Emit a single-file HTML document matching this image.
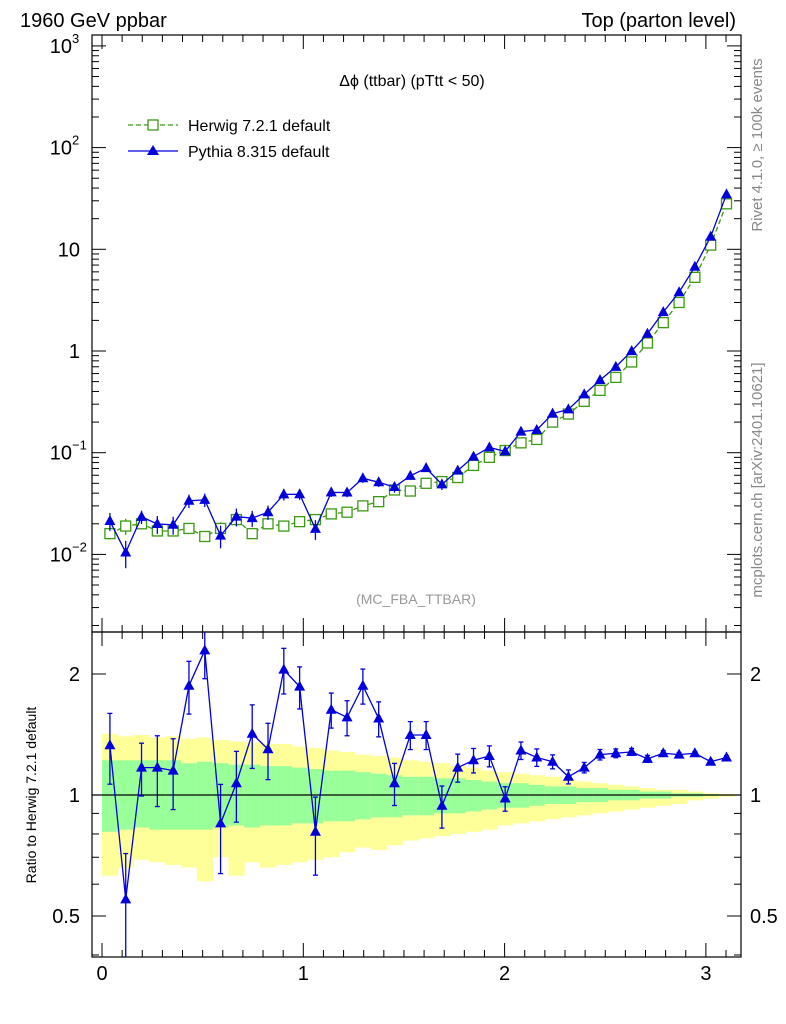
<!DOCTYPE html>
<html><head><meta charset="utf-8">
<style>
body{margin:0;background:#fff;}
svg{display:block;font-family:"Liberation Sans",sans-serif;}
</style></head>
<body>
<svg id="c" width="786" height="1024" viewBox="0 0 786 1024" xmlns="http://www.w3.org/2000/svg">
<text x="20" y="27" font-size="20">1960 GeV ppbar</text>
<text x="736" y="27" font-size="20" text-anchor="end">Top (parton level)</text>
<text x="412" y="86" font-size="16" text-anchor="middle">Δϕ (ttbar) (pTtt &lt; 50)</text>
<text x="416" y="604" font-size="14" fill="#999" text-anchor="middle">(MC_FBA_TTBAR)</text>
<text transform="translate(762,145) rotate(-90)" font-size="15" fill="#888" text-anchor="middle">Rivet 4.1.0, ≥ 100k events</text>
<text transform="translate(762,480) rotate(-90)" font-size="15" fill="#888" text-anchor="middle">mcplots.cern.ch [arXiv:2401.10621]</text>
<text transform="translate(36,795) rotate(-90)" font-size="14" text-anchor="middle">Ratio to Herwig 7.2.1 default</text>
<g id="bands"></g>
<g id="axes"></g>
<g id="series"></g>
<g>
<line x1="128" y1="125" x2="178" y2="125" stroke="#3a9a10" stroke-width="1.3" stroke-dasharray="5,3"/>
<rect x="148" y="120" width="10" height="10" fill="#fff" stroke="#3a9a10" stroke-width="1.3"/>
<text x="188" y="131" font-size="16">Herwig 7.2.1 default</text>
<line x1="128" y1="151" x2="178" y2="151" stroke="#0000dd" stroke-width="1.3"/>
<polygon points="153,145 159,155 147,155" fill="#0000dd"/>
<text x="188" y="157" font-size="16">Pythia 8.315 default</text>
</g>
</svg>
<script>
const herwig=[0.016,0.019,0.02,0.017,0.017,0.018,0.015,0.018,0.022,0.016,0.02,0.019,0.021,0.022,0.025,0.026,0.03,0.033,0.043,0.042,0.05,0.052,0.057,0.075,0.09,0.105,0.125,0.135,0.2,0.24,0.32,0.41,0.55,0.78,1.2,1.9,3.0,5.3,11,28];
const ratio=[1.33,0.55,1.17,1.17,1.15,1.87,2.29,0.85,1.07,1.42,1.3,2.05,1.86,0.81,1.63,1.56,1.87,1.55,1.07,1.41,1.41,0.94,1.17,1.22,1.25,0.98,1.29,1.24,1.21,1.11,1.17,1.26,1.27,1.28,1.23,1.27,1.26,1.27,1.21,1.24];
const relErr=[0.2,0.3,0.15,0.2,0.2,0.15,0.15,0.25,0.2,0.18,0.16,0.13,0.12,0.22,0.1,0.1,0.1,0.1,0.12,0.08,0.08,0.12,0.08,0.07,0.06,0.07,0.05,0.05,0.04,0.04,0.03,0.03,0.025,0.02,0.02,0.015,0.012,0.01,0.01,0.01];
const greenUp=[1.22,1.22,1.22,1.22,1.22,1.2,1.21,1.2,1.19,1.19,1.18,1.18,1.17,1.16,1.15,1.15,1.14,1.13,1.12,1.11,1.11,1.1,1.1,1.09,1.08,1.07,1.07,1.06,1.05,1.05,1.04,1.04,1.03,1.03,1.02,1.02,1.01,1.01,1.005,1.003];
const greenDn=[0.81,0.82,0.83,0.82,0.82,0.82,0.82,0.83,0.84,0.83,0.84,0.84,0.85,0.85,0.86,0.86,0.87,0.88,0.88,0.89,0.89,0.9,0.9,0.91,0.92,0.93,0.93,0.94,0.95,0.95,0.96,0.96,0.97,0.97,0.98,0.98,0.99,0.99,0.995,0.997];
const yelUp=[1.42,1.4,1.41,1.39,1.4,1.38,1.39,1.37,1.36,1.35,1.34,1.34,1.32,1.31,1.29,1.28,1.26,1.25,1.24,1.22,1.21,1.2,1.18,1.17,1.15,1.14,1.13,1.12,1.11,1.09,1.08,1.07,1.06,1.05,1.04,1.03,1.03,1.02,1.01,1.005];
const yelDn=[0.63,0.66,0.69,0.68,0.67,0.66,0.61,0.7,0.63,0.68,0.66,0.67,0.68,0.69,0.7,0.72,0.74,0.73,0.75,0.77,0.78,0.79,0.8,0.81,0.82,0.84,0.85,0.86,0.87,0.88,0.89,0.9,0.91,0.92,0.93,0.94,0.95,0.97,0.98,0.99];
const xTicks=[0,1,2,3];
const NS="http://www.w3.org/2000/svg";
const L=92,R=741,T=35,M=632,B=957;
const bw=Math.PI/40;
function X(v){return 102+v*201.3;}
function Y(v){return 351-Math.log10(v)*101.7;}
function YR(v){return 795-Math.log10(v)*402;}
function el(tag,a,p){const e=document.createElementNS(NS,tag);for(const k in a)e.setAttribute(k,a[k]);p.appendChild(e);return e;}
const bands=document.getElementById('bands'),ax=document.getElementById('axes'),se=document.getElementById('series');
const cl=s=>Math.max(M,Math.min(B,s));
for(let i=0;i<40;i++){
 const x0=X(i*bw),x1=X((i+1)*bw);
 let r=el('rect',{x:x0,y:YR(yelUp[i]),width:x1-x0+0.5,height:YR(yelDn[i])-YR(yelUp[i]),fill:'#ffff99'},bands);
 
 r=el('rect',{x:x0,y:YR(greenUp[i]),width:x1-x0+0.5,height:YR(greenDn[i])-YR(greenUp[i]),fill:'#99ff99'},bands);
 
}
el('rect',{x:L,y:T,width:R-L,height:M-T,fill:'none',stroke:'#000','stroke-width':1.2},ax);
el('rect',{x:L,y:M,width:R-L,height:B-M,fill:'none',stroke:'#000','stroke-width':1.2},ax);
el('line',{x1:L,y1:YR(1),x2:R,y2:YR(1),stroke:'#000','stroke-width':1.2},ax);
for(let d=-3;d<=3;d++){for(let m=1;m<10;m++){const v=m*Math.pow(10,d);const y=Y(v);if(y<T||y>M)continue;const len=m==1?14:7;
 el('line',{x1:L,y1:y,x2:L+len,y2:y,stroke:'#000'},ax);el('line',{x1:R,y1:y,x2:R-len,y2:y,stroke:'#000'},ax);}}
const ylab=[[3,'10','3'],[2,'10','2'],[1,'10',''],[0,'1',''],[-1,'10','−1'],[-2,'10','−2']];
ylab.forEach(a=>{const y=Y(Math.pow(10,a[0]));const t=el('text',{x:a[2]?72:80,y:y+7,'font-size':20,'text-anchor':'end'},ax);t.textContent=a[1];
 
 if(a[2]){const s=el('text',{x:72,y:y-3,'font-size':13},ax);s.textContent=a[2];}});
for(const v of [0.4,0.5,0.6,0.7,0.8,0.9,1,2]){const y=YR(v);const len=(v==1||v==2||v==0.5)?14:7;
 el('line',{x1:L,y1:y,x2:L+len,y2:y,stroke:'#000'},ax);el('line',{x1:R,y1:y,x2:R-len,y2:y,stroke:'#000'},ax);}
[[2,'2'],[1,'1'],[0.5,'0.5']].forEach(a=>{const y=YR(a[0]);
 let t=el('text',{x:80,y:y+7,'font-size':20,'text-anchor':'end'},ax);t.textContent=a[1];
 t=el('text',{x:750,y:y+7,'font-size':20},ax);t.textContent=a[1];});
for(let v=0;v<=3.15;v+=0.1){const x=X(v);if(x>R)break;const maj=Math.abs(v-Math.round(v))<1e-6;const len=maj?14:7;
 for(const [y0,dir] of [[T,1],[M,-1],[M,1],[B,-1]]) el('line',{x1:x,y1:y0,x2:x,y2:y0+dir*len,stroke:'#000'},ax);}
xTicks.forEach(v=>{const t=el('text',{x:X(v),y:980,'font-size':20,'text-anchor':'middle'},ax);t.textContent=v;
 });
const cx=i=>X((i+0.5)*bw);
const pyth=herwig.map((h,i)=>h*ratio[i]);
let hp=el('polyline',{points:herwig.map((v,i)=>cx(i)+','+Y(v)).join(' '),fill:'none',stroke:'#3a9a10','stroke-width':1.3,'stroke-dasharray':'5,3'},se);

herwig.forEach((v,i)=>{const e=v*relErr[i]*0.6;el('line',{x1:cx(i),y1:Y(v+e),x2:cx(i),y2:Y(v-e),stroke:'#3a9a10','stroke-width':1.3},se);
 const r=el('rect',{x:cx(i)-5,y:Y(v)-5,width:10,height:10,fill:'#fff',stroke:'#3a9a10','stroke-width':1.3},se);
 });
let pp=el('polyline',{points:pyth.map((v,i)=>cx(i)+','+Y(v)).join(' '),fill:'none',stroke:'#0000dd','stroke-width':1.3},se);

function tri(x,y){return (x)+','+(y-6)+' '+(x+5.5)+','+(y+4)+' '+(x-5.5)+','+(y+4);}
pyth.forEach((v,i)=>{const e=v*relErr[i];el('line',{x1:cx(i),y1:Y(v+e),x2:cx(i),y2:Y(Math.max(v-e,1e-4)),stroke:'#0000dd','stroke-width':1.3},se);
 const p=el('polygon',{points:tri(cx(i),Y(v)),fill:'#0000dd'},se);});
let rp=el('polyline',{points:ratio.map((v,i)=>cx(i)+','+YR(v)).join(' '),fill:'none',stroke:'#0000dd','stroke-width':1.3},se);

ratio.forEach((v,i)=>{const e=v*relErr[i];
 el('line',{x1:cx(i),y1:cl(YR(v+e)),x2:cx(i),y2:cl(YR(Math.max(v-e,0.01))),stroke:'#0000dd','stroke-width':1.3},se);
 for(const yy of [cl(YR(v+e)),cl(YR(Math.max(v-e,0.01)))]) if(yy>M&&yy<B) el('line',{x1:cx(i)-2.5,y1:yy,x2:cx(i)+2.5,y2:yy,stroke:'#0000dd','stroke-width':1.3},se);
 const p=el('polygon',{points:tri(cx(i),YR(v)),fill:'#0000dd'},se);});
</script>
</body></html>
